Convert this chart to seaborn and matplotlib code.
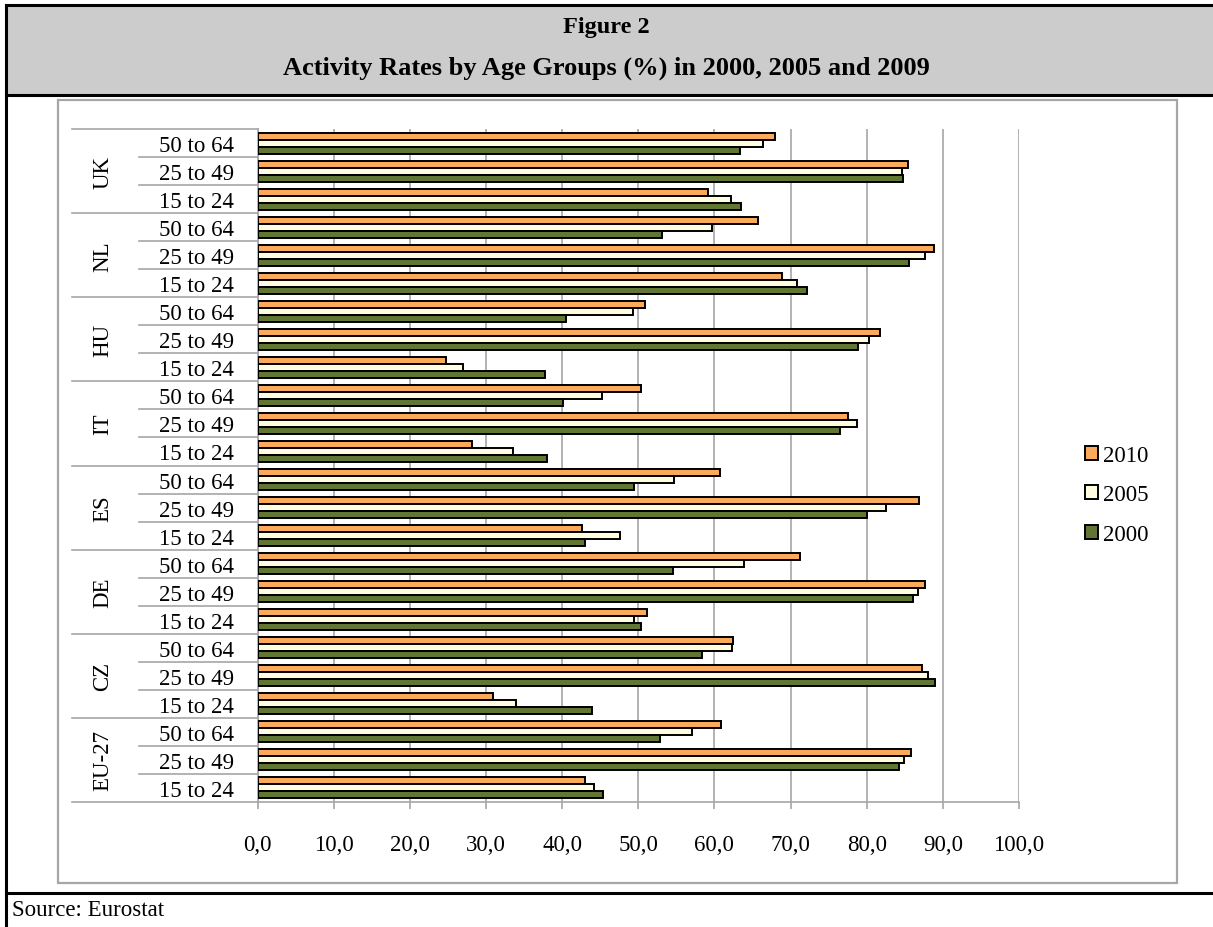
import matplotlib
matplotlib.use("Agg")
import matplotlib.pyplot as plt
from matplotlib.patches import Rectangle
from matplotlib.lines import Line2D
import matplotlib.transforms as mtransforms
import seaborn as sns
import pandas as pd

# ---- data (top to bottom as in the chart) ----
countries = ["UK", "NL", "HU", "IT", "ES", "DE", "CZ", "EU-27"]
age_groups = ["50 to 64", "25 to 49", "15 to 24"]
years = ["2010", "2005", "2000"]

rates_2010 = [68.0, 85.4, 59.2, 65.7, 88.8, 68.9, 50.9, 81.7, 24.8, 50.3, 77.5, 28.2,
              60.8, 86.9, 42.6, 71.3, 87.6, 51.2, 62.5, 87.3, 30.9, 60.9, 85.8, 43.0]
rates_2005 = [66.4, 84.6, 62.2, 59.7, 87.6, 70.9, 49.3, 80.3, 27.0, 45.2, 78.7, 33.6,
              54.7, 82.5, 47.6, 63.9, 86.7, 49.4, 62.3, 88.0, 34.0, 57.1, 84.9, 44.2]
rates_2000 = [63.3, 84.8, 63.5, 53.1, 85.6, 72.2, 40.5, 78.9, 37.7, 40.1, 76.5, 38.0,
              49.5, 80.1, 43.0, 54.5, 86.1, 50.3, 58.4, 89.0, 43.9, 52.8, 84.3, 45.4]

x_ticks = [0, 10, 20, 30, 40, 50, 60, 70, 80, 90, 100]
x_tick_labels = ["0,0", "10,0", "20,0", "30,0", "40,0", "50,0", "60,0", "70,0", "80,0", "90,0", "100,0"]

colors = {"2010": "#FAAA5A", "2005": "#FFFCE0", "2000": "#617633"}

# ---- long form table ----
keys = [f"{c}|{a}" for c in countries for a in age_groups]
rows = []
for yr, vals in zip(years, [rates_2010, rates_2005, rates_2000]):
    for k, v in zip(keys, vals):
        rows.append({"cat": k, "year": yr, "rate": v})
df = pd.DataFrame(rows)

plt.rcParams["font.family"] = ["Liberation Serif", "DejaVu Serif"]
FS = 16.5
W, H = 1213, 928
fig = plt.figure(figsize=(W / 100, H / 100), dpi=100)

def fx(px):
    return px / W

def fy(py):
    return 1 - py / H

# ---- frame / title band ----
fig.patches.append(Rectangle((fx(6), fy(96)), 1 - fx(6), fy(6) - fy(96),
                             transform=fig.transFigure, facecolor="#CCCCCC",
                             edgecolor="none", zorder=0))
for (x0, y0, x1, y1) in [(6, 6, W, 6), (6, 96, W, 96), (6, 894, W, 894), (6, 6, 6, H)]:
    fig.lines.append(Line2D([fx(x0), fx(x1)], [fy(y0), fy(y1)], transform=fig.transFigure,
                            color="black", linewidth=2.2, zorder=1))
fig.patches.append(Rectangle((fx(58), fy(884)), fx(1177) - fx(58), fy(101) - fy(884),
                             transform=fig.transFigure, facecolor="none",
                             edgecolor="#A6A6A6", linewidth=1.6, zorder=1))

fig.text(0.5, fy(27), "Figure 2", ha="center", va="center", fontsize=17.5, fontweight="bold")
fig.text(0.5, fy(68), "Activity Rates by Age Groups (%) in 2000, 2005 and 2009",
         ha="center", va="center", fontsize=19, fontweight="bold")
fig.text(fx(12), fy(911), "Source: Eurostat", ha="left", va="center", fontsize=FS)

# ---- axes ----
left, right, top, bottom = 257.5, 1019, 130, 803
ax = fig.add_axes([fx(left), fy(bottom), fx(right) - fx(left), fy(top) - fy(bottom)])
ax.set_facecolor("none")

sns.barplot(data=df, y="cat", x="rate", hue="year", order=keys, hue_order=years,
            palette=colors, orient="h", width=0.75, saturation=1,
            edgecolor="black", linewidth=1.4, ax=ax, zorder=3)

n = len(keys)
ax.set_ylim(n - 0.5, -0.5)
ax.set_xlim(0, 100)
ax.set_xticks(x_ticks)
ax.set_xticklabels(x_tick_labels, fontsize=FS)
ax.set_yticks(range(n))
ax.set_yticklabels([a for c in countries for a in age_groups], fontsize=FS)
ax.set_xlabel("")
ax.set_ylabel("")

grid_c = "#A6A6A6"
ax.xaxis.grid(True, color=grid_c, linewidth=1.2, zorder=0)
ax.set_axisbelow(True)
for s in ["top", "right"]:
    ax.spines[s].set_visible(False)
for s in ["left", "bottom"]:
    ax.spines[s].set_color(grid_c)
    ax.spines[s].set_linewidth(1.2)
ax.tick_params(axis="x", length=5, width=1.2, color=grid_c, pad=18)
ax.tick_params(axis="y", length=0, pad=17)

# multi-level category table lines
tr = mtransforms.blended_transform_factory(ax.transAxes, ax.transData)
x_far = (72 - left) / (right - left)
x_mid = (139 - left) / (right - left)
for i in range(n + 1):
    yb = i - 0.5
    x0 = x_far if i % 3 == 0 else x_mid
    ax.add_line(Line2D([x0, 0], [yb, yb], transform=tr, color=grid_c,
                       linewidth=1.2, clip_on=False))
for g, c in enumerate(countries):
    ax.text((103 - left) / (right - left), g * 3 + 1, c, transform=tr, rotation=90,
            ha="center", va="center", fontsize=FS)

# legend
handles, labels = ax.get_legend_handles_labels()
if ax.get_legend() is not None:
    ax.get_legend().remove()
fig.legend(handles, labels, loc="center left", bbox_to_anchor=(fx(1085), fy(496)),
           bbox_transform=fig.transFigure, frameon=False, fontsize=FS,
           handlelength=0.55, handleheight=0.55, handletextpad=0.25,
           labelspacing=0.8, borderpad=0, borderaxespad=0)

fig.savefig("out.png", dpi=100)
